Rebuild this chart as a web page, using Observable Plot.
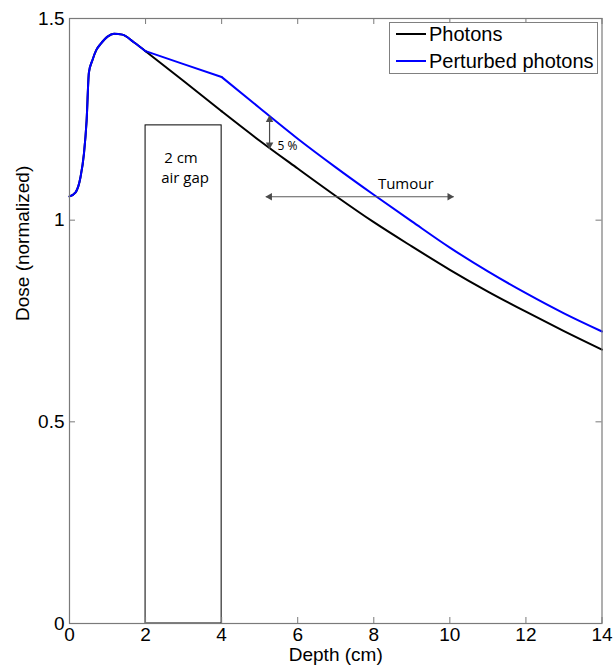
<!DOCTYPE html>
<html>
<head>
<meta charset="utf-8">
<script src="https://cdn.jsdelivr.net/npm/d3@7"></script>
<script src="https://cdn.jsdelivr.net/npm/@observablehq/plot@0.6"></script>
<style>
  html, body { margin: 0; padding: 0; background: #fff; }
  #wrap { position: relative; width: 613px; height: 671px; }
  #legend { position: absolute; left: 389px; top: 22px; width: 207px; height: 50px;
            border: 1px solid #808080; background: #fff; }
</style>
</head>
<body>
<div id="wrap"></div>
<script>
// ---- data ----
const depth = [0, 0.16, 0.29, 0.38, 0.45, 0.51, 0.6, 0.7, 0.82, 1.0, 1.17, 1.39, 1.69, 2, 3, 4, 5, 6, 7, 8, 9, 10, 11, 12, 13, 14];
const photons = [1.059, 1.069, 1.107, 1.165, 1.247, 1.366, 1.396, 1.421, 1.437, 1.455, 1.462, 1.460, 1.441, 1.419,
                 1.345, 1.270, 1.197, 1.128, 1.060, 0.995, 0.935, 0.877, 0.823, 0.773, 0.725, 0.679];
const perturbed = [1.059, 1.069, 1.107, 1.165, 1.247, 1.366, 1.396, 1.421, 1.437, 1.455, 1.462, 1.460, 1.441, 1.419,
                   1.387, 1.355, 1.278, 1.202, 1.131, 1.063, 0.997, 0.932, 0.873, 0.819, 0.769, 0.724];
const seriesNames = ["Photons", "Perturbed photons"];
const seriesColors = ["#000000", "#0000ff"];

const xTicks = [0, 2, 4, 6, 8, 10, 12, 14];
const yTicks = [0, 0.5, 1, 1.5];
const yTickLabels = ["0", "0.5", "1", "1.5"];
const xLabel = "Depth (cm)";
const yLabel = "Dose (normalized)";

// annotations
const airGapDepth = [2, 4];
const airGapTop = 1.235;
const airGapText = ["2 cm", "air gap"];
const airGapTextPos = [[2.93, 1.153], [3.04, 1.103]];
const fivePctDepth = 5.26;
const fivePctDose = [1.259, 1.177];
const fivePctText = "5 %";
const fivePctTextPos = [5.47, 1.184];
const tumourDepth = [5.16, 10.1];
const tumourDose = 1.058;
const tumourText = "Tumour";
const tumourTextPos = [8.84, 1.088];

// ---- build ----
const rows = depth.map((d, i) => ({depth: d, photons: photons[i], perturbed: perturbed[i]}));
const buildUp = rows.filter(r => r.depth <= 2);
const gapPart = rows.filter(r => r.depth >= 2 && r.depth <= 4);
const fallOff = rows.filter(r => r.depth >= 4);
const W = 613, H = 671;
const mL = 69, mR = 11.5, mT = 18, mB = 48;
const plotW = W - mL - mR, plotH = H - mT - mB;
const tickLen = 6;
const frameColor = "#7a7a7a";
const annColor = "#4a4a4a";
const calibri = "'Open Sans', 'Liberation Sans', sans-serif";

const seriesLines = (data, curve) => [
  Plot.line(data, {x: "depth", y: "photons", stroke: seriesColors[0], strokeWidth: 2, curve}),
  Plot.line(data, {x: "depth", y: "perturbed", stroke: seriesColors[1], strokeWidth: 2, curve})
];

const chart = Plot.plot({
  width: W, height: H,
  marginLeft: mL, marginRight: mR, marginTop: mT, marginBottom: mB,
  style: {fontFamily: "'Liberation Sans', Arial, Helvetica, sans-serif", fontSize: "19px", color: "#000", background: "#fff"},
  x: {domain: [0, 14]},
  y: {domain: [0, 1.5]},
  marks: [
    // air gap box
    Plot.rect([airGapDepth], {x1: d => d[0], x2: d => d[1], y1: 0, y2: airGapTop, fill: "none", stroke: "#000", strokeWidth: 1}),
    Plot.text(airGapText, {x: (d, i) => airGapTextPos[i][0], y: (d, i) => airGapTextPos[i][1], text: d => d,
      fontFamily: calibri, fontSize: 15, fill: "#000"}),
    // lines
    ...seriesLines(fallOff, "monotone-x"),
    ...seriesLines(gapPart, "linear"),
    ...seriesLines(buildUp, "monotone-x"),
    // 5 % arrow
    Plot.link([fivePctDose], {x1: fivePctDepth, x2: fivePctDepth, y1: d => d[0], y2: d => d[1], stroke: annColor, strokeWidth: 1.2}),
    Plot.dot([fivePctDose[0]], {x: fivePctDepth, y: d => d, symbol: "triangle", r: 2.8, fill: annColor, stroke: "none", rotate: 0, dy: 4}),
    Plot.dot([fivePctDose[1]], {x: fivePctDepth, y: d => d, symbol: "triangle", r: 2.8, fill: annColor, stroke: "none", rotate: 180, dy: -4}),
    Plot.text([fivePctText], {x: fivePctTextPos[0], y: fivePctTextPos[1], text: d => d, textAnchor: "start",
      fontFamily: calibri, fontSize: 12, fill: "#000"}),
    // tumour arrow
    Plot.link([tumourDepth], {x1: d => d[0], x2: d => d[1], y1: tumourDose, y2: tumourDose, stroke: "#5a5a5a", strokeWidth: 1.2}),
    Plot.dot([tumourDepth[0]], {x: d => d, y: tumourDose, symbol: "triangle", r: 2.8, fill: "#4a4a4a", stroke: "none", rotate: -90, dx: 4}),
    Plot.dot([tumourDepth[1]], {x: d => d, y: tumourDose, symbol: "triangle", r: 2.8, fill: "#4a4a4a", stroke: "none", rotate: 90, dx: -4}),
    Plot.text([tumourText], {x: tumourTextPos[0], y: tumourTextPos[1], text: d => d,
      fontFamily: calibri, fontSize: 15, fill: "#000"}),
    // inward ticks (MATLAB style)
    Plot.tickX(xTicks, {x: d => d, insetTop: plotH - tickLen, stroke: frameColor}),
    Plot.tickX(xTicks, {x: d => d, insetBottom: plotH - tickLen, stroke: frameColor}),
    Plot.tickY(yTicks, {y: d => d, insetRight: plotW - tickLen, stroke: frameColor}),
    Plot.tickY(yTicks, {y: d => d, insetLeft: plotW - tickLen, stroke: frameColor}),
    Plot.frame({stroke: frameColor, strokeWidth: 1.2}),
    // axes (labels only)
    Plot.axisX(xTicks, {tickSize: 0, tickPadding: 4, label: null, fontSize: 19}),
    Plot.axisY(yTicks, {tickSize: 0, tickPadding: 5, label: null, fontSize: 19,
      tickFormat: d => yTickLabels[yTicks.indexOf(d)]}),
    Plot.text([xLabel], {frameAnchor: "bottom", dy: 37, text: d => d, fontSize: 19, fill: "#000"}),
    Plot.text([yLabel], {frameAnchor: "left", dx: -47, rotate: -90, text: d => d, fontSize: 19, fill: "#000"})
  ]
});

const wrap = document.getElementById("wrap");
wrap.appendChild(chart);

// legend
const legend = document.createElement("div");
legend.id = "legend";
const ns = "http://www.w3.org/2000/svg";
const lsvg = document.createElementNS(ns, "svg");
lsvg.setAttribute("width", 207);
lsvg.setAttribute("height", 50);
lsvg.style.fontFamily = "'Liberation Sans', Arial, Helvetica, sans-serif";
lsvg.style.fontSize = "20px";
seriesNames.forEach((name, i) => {
  const cy = 11 + i * 27;
  const ln = document.createElementNS(ns, "line");
  ln.setAttribute("x1", 6); ln.setAttribute("x2", 36);
  ln.setAttribute("y1", cy); ln.setAttribute("y2", cy);
  ln.setAttribute("stroke", seriesColors[i]); ln.setAttribute("stroke-width", 2);
  lsvg.appendChild(ln);
  const tx = document.createElementNS(ns, "text");
  tx.setAttribute("x", 39); tx.setAttribute("y", cy + 7);
  tx.textContent = name;
  lsvg.appendChild(tx);
});
legend.appendChild(lsvg);
wrap.appendChild(legend);
</script>
</body>
</html>
